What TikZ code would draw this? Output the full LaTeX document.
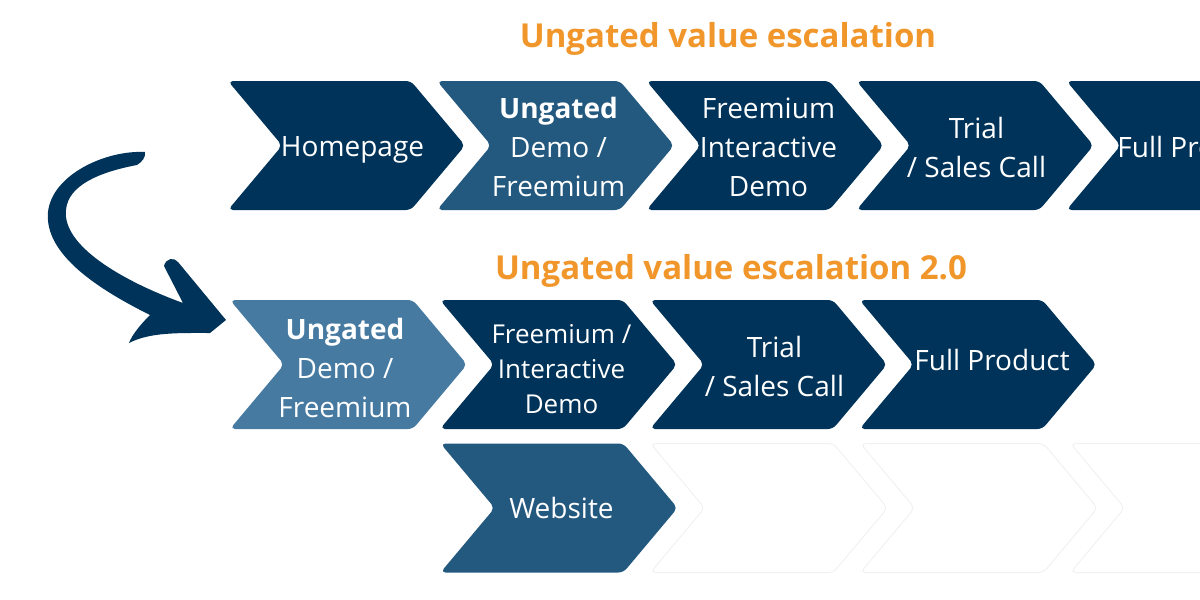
\documentclass[tikz,border=0pt]{standalone}
\usepackage{fontspec}
\setmainfont{Open Sans}
\usepackage{xcolor}
\usetikzlibrary{shapes.symbols}

\definecolor{navy}{RGB}{0,51,89}
\definecolor{steel}{RGB}{35,88,127}
\definecolor{sky}{RGB}{70,122,161}
\definecolor{amber}{RGB}{240,150,42}
\definecolor{ghost}{RGB}{240,241,243}

\begin{document}
\begin{tikzpicture}[x=1pt,y=-1pt,
  chev/.style={signal, signal from=west, signal to=east, signal pointer angle=100,
    minimum width=237pt, minimum height=129pt, inner sep=0pt, rounded corners=5pt},
  txt/.style={text=white, align=center, font=\fontsize{28}{39}\selectfont},
  head/.style={text=amber, font=\bfseries\fontsize{33}{38}\selectfont}]
\useasboundingbox (0,0) rectangle (1200,600);
\clip (0,0) rectangle (1200,600);

  % titles
  \node[head] (T1) at (728,39) {Ungated value escalation};
  \node[head] (T2) at (731,271) {Ungated value escalation 2.0};

  % first row
  \node[chev, fill=navy,  label={[txt, xshift=6pt, yshift=-4pt]center:Homepage}] (A1) at (346.5,145.5) {};
  \node[chev, fill=steel, label={[txt, xshift=3pt, yshift=-1pt]center:{\textbf{Ungated}\\Demo /\\Freemium}}] (A2) at (555.5,145.5) {};
  \node[chev, fill=navy,  label={[txt, xshift=3.5pt, yshift=-2pt]center:{Freemium\\Interactive\\Demo}}] (A3) at (765,145.5) {};
  \node[chev, fill=navy,  label={[txt, xshift=1.5pt, yshift=-2pt]center:{Trial\\/ Sales Call}}] (A4) at (975,145.5) {};
  \node[chev, fill=navy,  label={[txt, xshift=10pt, yshift=-1pt]center:Full Product}] (A5) at (1185,145.5) {};

  % second row
  \node[chev, fill=sky,   label={[txt, xshift=-3.5pt, yshift=-3pt]center:{\textbf{Ungated}\\Demo /\\Freemium}}] (B1) at (348.5,364.5) {};
  \node[chev, fill=navy,  label={[txt, font=\fontsize{26}{35}\selectfont, xshift=3pt, yshift=-5pt]center:{Freemium /\\Interactive\\Demo}}] (B2) at (558.5,364.5) {};
  \node[chev, fill=navy,  label={[txt, xshift=6pt, yshift=-2pt]center:{Trial\\/ Sales Call}}] (B3) at (768.5,364.5) {};
  \node[chev, fill=navy,  label={[txt, xshift=14pt, yshift=5pt]center:Full Product}] (B4) at (978,364.5) {};

  % third row
  \node[chev, fill=steel, label={[txt, xshift=2.5pt]center:Website}] (C1) at (559,508) {};
  \node[chev, draw=ghost, line width=1pt] (C2) at (769,508) {};
  \node[chev, draw=ghost, line width=1pt] (C3) at (979,508) {};
  \node[chev, draw=ghost, line width=1pt] (C4) at (1189,508) {};

  % hand drawn arrow
  \fill[navy] (145,152) .. controls (105,150) and (52,175) .. (48,212)
    .. controls (44,255) and (100,290) .. (150,315)
    .. controls (140,325) and (132,335) .. (129,343)
    .. controls (150,332) and (180,333) .. (210,333)
    -- (226,320) -- (178,262)
    .. controls (174,257) and (166,258) .. (164,266)
    -- (183,303)
    .. controls (120,280) and (62,245) .. (66,210)
    .. controls (68,185) and (100,172) .. (137,165)
    .. controls (142,162) and (146,157) .. (145,152) -- cycle;
\end{tikzpicture}
\end{document}
